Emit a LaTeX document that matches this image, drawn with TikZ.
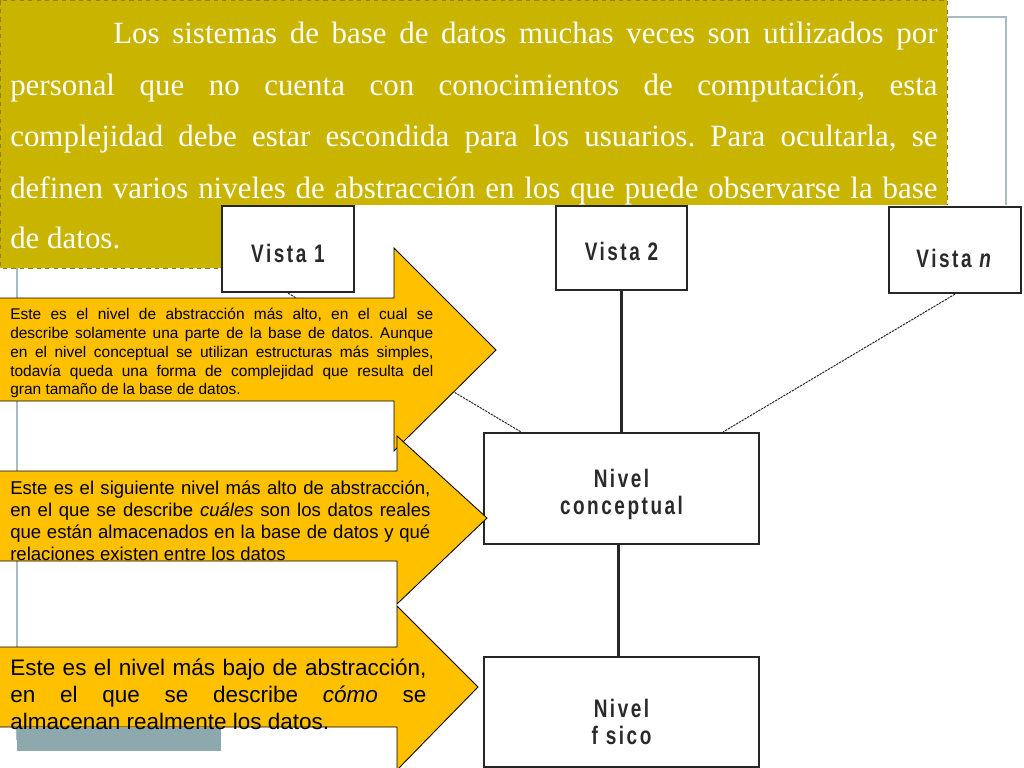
\documentclass[tikz,border=0pt]{standalone}
\usepackage{fontspec}
\setmainfont{Liberation Serif}
\newfontfamily\arialf{Liberation Sans}
\newfontfamily\condf[FakeStretch=0.75,LetterSpace=10]{Liberation Sans}
\usetikzlibrary{calc}
\frenchspacing
\definecolor{gold}{HTML}{C9B400}
\definecolor{goldline}{HTML}{8F8000}
\definecolor{arrowfill}{HTML}{FFC000}
\definecolor{frameblue}{HTML}{A8BCC3}
\definecolor{barblue}{HTML}{8EA9AE}
\definecolor{labelgray}{HTML}{2A2A2A}
\tikzset{
  boxnode/.style={draw=black!85, line width=1.6pt, fill=white, inner sep=0pt},
  boxlabel/.style={font=\condf\bfseries\fontsize{18}{19}\selectfont, text=labelgray, align=center, inner sep=0pt},
  link/.style={line width=1.6pt, draw=black!85},
  dotlink/.style={line width=0.7pt, draw=black!85, dash pattern=on 1.6pt off 0.7pt},
  callout/.style={fill=arrowfill, draw=black, line width=0.6pt},
  goldtext/.style={anchor=base west, inner sep=0pt, text=white, font=\fontsize{22}{26}\selectfont},
  atxtA/.style={anchor=base west, inner sep=0pt, text=black, font=\arialf\fontsize{11}{13}\selectfont},
  atxtB/.style={anchor=base west, inner sep=0pt, text=black, font=\arialf\fontsize{13.2}{15}\selectfont},
  atxtC/.style={anchor=base west, inner sep=0pt, text=black, font=\arialf\fontsize{16}{19}\selectfont}
}
\begin{document}
\begin{tikzpicture}[x=0.025cm, y=-0.025cm]
\useasboundingbox (0,0) rectangle (1024,768);
\fill[white] (0,0) rectangle (1024,768);
% template frame
\draw[frameblue, line width=1.2pt] (17,740) -- (17,17) -- (1006,17) -- (1006,300);
\fill[barblue] (17,728) rectangle (221,751);
% gold text box
\fill[gold] (0,0) rectangle (947,268);
\draw[goldline, dashed, line width=0.4pt] (0.5,0.5) rectangle (947,268);
\node[goldtext] (g1) at (113,44) {\makebox[20.6cm][s]{Los sistemas de base de datos muchas veces son utilizados por}};
\node[goldtext] (g2) at (10,96) {\makebox[23.175cm][s]{personal que no cuenta con conocimientos de computación, esta}};
\node[goldtext] (g3) at (10,147) {\makebox[23.175cm][s]{complejidad debe estar escondida para los usuarios. Para ocultarla, se}};
\node[goldtext] (g4) at (10,198) {\makebox[23.175cm][s]{definen varios niveles de abstracción en los que puede observarse la base}};
\node[goldtext] (g5) at (10,248) {de datos.};
% diagram picture area
\fill[white] (222,205) rectangle (1024,768);
\node[boxnode, minimum width=3.3cm, minimum height=2.15cm,
  label={[boxlabel, yshift=-0.1cm]center:Vista 1}] (v1) at (288,249) {};
\node[boxnode, minimum width=3.275cm, minimum height=2.1cm,
  label={[boxlabel, yshift=-0.075cm]center:Vista 2}] (v2) at (621.5,248) {};
\node[boxnode, minimum width=3.3cm, minimum height=2.15cm,
  label={[boxlabel, yshift=-0.2cm]center:Vista \textit{n}}] (vn) at (955,250) {};
\node[boxnode, minimum width=6.875cm, minimum height=2.775cm,
  label={[boxlabel, yshift=-0.15cm]center:Nivel\\conceptual}] (nc) at (621.5,488.5) {};
\node[boxnode, minimum width=6.875cm, minimum height=2.75cm,
  label={[boxlabel, yshift=-0.25cm]center:Nivel\\f sico}] (nf) at (621.5,712) {};
\draw[link] (v2.south) -- (nc.north);
\draw[link] ($(nc.south)+(-3,0)$) -- ($(nf.north)+(-3,0)$);
\draw[dotlink] (v1.south) -- ($(nc.north west)+(38,0)$);
\draw[dotlink] (vn.south) -- ($(nc.north east)+(-37,0)$);
% callout arrow 1
\draw[callout] (-2,298) -- (394,298) -- (394,248) -- (496,350) -- (394,451) -- (394,401) -- (-2,401) -- cycle;
\node[atxtA] (a11) at (10,319) {\makebox[10.575cm][s]{Este es el nivel de abstracción más alto, en el cual se}};
\node[atxtA] (a12) at (10,338) {\makebox[10.575cm][s]{describe solamente una parte de la base de datos. Aunque}};
\node[atxtA] (a13) at (10,357) {\makebox[10.575cm][s]{en el nivel conceptual se utilizan estructuras más simples,}};
\node[atxtA] (a14) at (10,376) {\makebox[10.575cm][s]{todavía queda una forma de complejidad que resulta del}};
\node[atxtA] (a15) at (10,394) {gran tamaño de la base de datos.};
% callout arrow 2
\draw[callout] (-2,471) -- (397,471) -- (397,436) -- (487,518) -- (397,604) -- (397,561) -- (-2,561) -- cycle;
\node[atxtB] (a21) at (10,494) {\makebox[10.5cm][s]{Este es el siguiente nivel más alto de abstracción,}};
\node[atxtB] (a22) at (10,516) {\makebox[10.5cm][s]{en el que se describe \textit{cuáles} son los datos reales}};
\node[atxtB] (a23) at (10,538) {\makebox[10.5cm][s]{que están almacenados en la base de datos y qué}};
\node[atxtB] (a24) at (10,560) {relaciones existen entre los datos};
% callout arrow 3
\draw[callout] (-2,647) -- (397,647) -- (397,606) -- (478,687) -- (397,770) -- (397,727) -- (-2,727) -- cycle;
\node[atxtC] (a31) at (10,675) {\makebox[10.4cm][s]{Este es el nivel más bajo de abstracción,}};
\node[atxtC] (a32) at (10,702) {\makebox[10.4cm][s]{en el que se describe \textit{cómo} se}};
\node[atxtC] (a33) at (10,729) {almacenan realmente los datos.};
\end{tikzpicture}
\end{document}
